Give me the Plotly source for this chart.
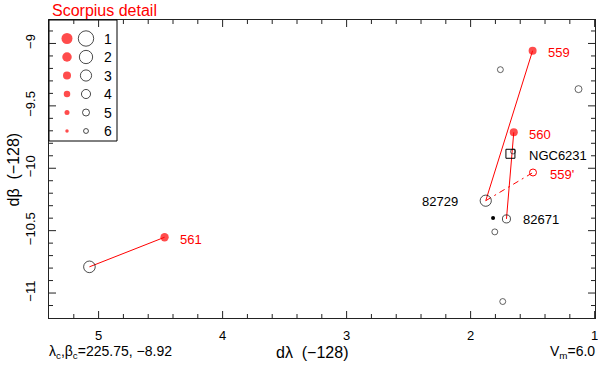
import plotly.graph_objects as go

# ---------------- data ----------------
red_names = ["559", "560", "561"]
red_x = [1.50, 1.652, 4.468]
red_y = [-9.058, -9.712, -10.553]
red_mag = [3.0, 3.0, 2.8]

hip_names = ["82729", "82671", ""]
hip_x = [1.878, 1.711, 5.074]
hip_y = [-10.26, -10.406, -10.79]
hip_mag = [3.0, 4.5, 2.8]

field_x = [1.76, 1.13, 1.805, 1.741, 1.658]
field_y = [-9.21, -9.366, -10.51, -11.068, -9.866]
field_mag = [5.5, 5.0, 5.5, 5.5, 6.0]

dot_x = [1.819]
dot_y = [-10.398]

alt_name = ["559'"]
alt_x = [1.497]
alt_y = [-10.034]

cluster_name = ["NGC6231"]
cluster_x = [1.679]
cluster_y = [-9.884]

legend_mags = [1, 2, 3, 4, 5, 6]
x_ticks = [5, 4, 3, 2, 1]
y_ticks = [-9, -9.5, -10, -10.5, -11]
y_tick_text = ["−9", "−9.5", "−10", "−10.5", "−11"]

# ---------------- styles / layout ----------------
FONT = "Liberation Sans, Arial, sans-serif"
RED = "#ff0000"
TICKC = "#222222"
W, H = 598, 366
L, R, T, B = 49, 3, 20, 48
pw, ph = W - L - R, H - T - B
XR = [5.4, 0.997]
YR = [-11.2, -8.812]

x_minor = [round(5.2 - 0.2 * k, 1) for k in range(22)]
x_minor = [v for v in x_minor if v not in x_ticks]
y_minor = [round(-11.1 + 0.1 * k, 1) for k in range(23)]
y_minor = [v for v in y_minor if v not in y_ticks]


def red_size(m):
    return 12.5 - 1.5 * m


def open_size(m):
    return 17.5 - 2.1 * m


def px(xp):
    return (xp - L) / pw


def py(yp):
    return (H - B - yp) / ph


def dx(xp):  # pixel -> data x (for the key inset)
    return XR[0] + px(xp) * (XR[1] - XR[0])


def dy(yp):
    return YR[0] + py(yp) * (YR[1] - YR[0])


fig = go.Figure()

# connecting lines
for i in range(len(red_x)):
    fig.add_trace(go.Scatter(x=[red_x[i], hip_x[i]], y=[red_y[i], hip_y[i]], mode="lines",
                             line=dict(color=RED, width=1), hoverinfo="skip", showlegend=False))
fig.add_trace(go.Scatter(x=[hip_x[0], alt_x[0]], y=[hip_y[0], alt_y[0]], mode="lines",
                         line=dict(color=RED, width=1, dash="6px,4px,2px,4px"),
                         hoverinfo="skip", showlegend=False))

# stars
fig.add_trace(go.Scatter(x=hip_x, y=hip_y, mode="markers",
                         marker=dict(symbol="circle-open", size=[open_size(m) for m in hip_mag],
                                     color="black", line=dict(width=1, color="black")),
                         showlegend=False))
fig.add_trace(go.Scatter(x=field_x, y=field_y, mode="markers",
                         marker=dict(symbol="circle-open", size=[open_size(m) for m in field_mag],
                                     color="#222", line=dict(width=1, color="#222")),
                         showlegend=False))
fig.add_trace(go.Scatter(x=dot_x, y=dot_y, mode="markers",
                         marker=dict(symbol="circle", size=4, color="black"), showlegend=False))
fig.add_trace(go.Scatter(x=alt_x, y=alt_y, mode="markers",
                         marker=dict(symbol="circle-open", size=7, color=RED,
                                     line=dict(width=1, color=RED)), showlegend=False))
fig.add_trace(go.Scatter(x=cluster_x, y=cluster_y, mode="markers",
                         marker=dict(symbol="square-open", size=9, color="black",
                                     line=dict(width=1, color="black")), showlegend=False))
fig.add_trace(go.Scatter(x=red_x, y=red_y, mode="markers",
                         marker=dict(symbol="circle", size=[red_size(m) for m in red_mag], color=RED,
                                     line=dict(width=0)),
                         showlegend=False))

# labels
for n, x, y in zip(red_names, red_x, red_y):
    fig.add_annotation(x=x, y=y, text=n, showarrow=False, xanchor="left", yanchor="middle",
                       xshift=13, yshift=-2, font=dict(color=RED, size=13, family=FONT))
for n, x, y, s in zip(hip_names, hip_x, hip_y, [-1, 1, 1]):
    if n:
        fig.add_annotation(x=x, y=y, text=n, showarrow=False,
                           xanchor="right" if s < 0 else "left", yanchor="middle",
                           xshift=-26 if s < 0 else 15, yshift=-1,
                           font=dict(color="black", size=13, family=FONT))
fig.add_annotation(x=alt_x[0], y=alt_y[0], text=alt_name[0], showarrow=False, xanchor="left",
                   yanchor="middle", xshift=15, yshift=-2, font=dict(color=RED, size=13, family=FONT))
fig.add_annotation(x=cluster_x[0], y=cluster_y[0], text=cluster_name[0], showarrow=False,
                   xanchor="left", yanchor="middle", xshift=17, yshift=-2,
                   font=dict(color="black", size=13, family=FONT))

# magnitude key (top-left box)
key_py = [20 + 18.5 * m for m in legend_mags]
fig.add_trace(go.Scatter(x=[dx(67)] * len(legend_mags), y=[dy(v) for v in key_py], mode="markers",
                         marker=dict(symbol="circle", size=[red_size(m) for m in legend_mags], color=RED,
                                     line=dict(width=0)),
                         showlegend=False, hoverinfo="skip"))
fig.add_trace(go.Scatter(x=[dx(86)] * len(legend_mags), y=[dy(v) for v in key_py], mode="markers",
                         marker=dict(symbol="circle-open", size=[open_size(m) for m in legend_mags],
                                     color="black", line=dict(width=1, color="black")),
                         showlegend=False, hoverinfo="skip"))
for m, v in zip(legend_mags, key_py):
    fig.add_annotation(xref="paper", yref="paper", x=px(108), y=py(v), text=str(m), showarrow=False,
                       xanchor="center", yanchor="middle", font=dict(size=14, family=FONT, color="black"))

fig.add_shape(type="rect", xref="paper", yref="paper", x0=0, x1=px(117), y0=py(141), y1=1,
              line=dict(color="black", width=1))

# tick marks (inside, on all four sides), placed through the axis scales
tick_line = dict(color=TICKC, width=1)
for vals, ln in ((x_ticks, 7), (x_minor, 4)):
    for v in vals:
        fig.add_shape(type="line", xref="x", yref="paper", x0=v, x1=v, y0=0, y1=ln / ph, line=tick_line)
        fig.add_shape(type="line", xref="x", yref="paper", x0=v, x1=v, y0=1, y1=1 - ln / ph, line=tick_line)
for vals, ln in ((y_ticks, 7), (y_minor, 4)):
    for v in vals:
        fig.add_shape(type="line", xref="paper", yref="y", y0=v, y1=v, x0=0, x1=ln / pw, line=tick_line)
        fig.add_shape(type="line", xref="paper", yref="y", y0=v, y1=v, x0=1, x1=1 - ln / pw, line=tick_line)

# texts
fig.add_annotation(xref="paper", yref="paper", x=px(50), y=py(11), text="Scorpius detail",
                   showarrow=False, xanchor="left", yanchor="middle",
                   font=dict(color=RED, size=16, family=FONT))
fig.add_annotation(xref="paper", yref="paper", x=px(12.5), y=py(170), text="dβ\u00a0\u00a0(−128)",
                   textangle=-90, showarrow=False, xanchor="center", yanchor="middle",
                   font=dict(color="black", size=16, family=FONT))
fig.add_annotation(xref="paper", yref="paper", x=px(312), y=py(352), text="dλ\u00a0\u00a0(−128)",
                   showarrow=False, xanchor="center", yanchor="middle",
                   font=dict(color="black", size=16, family=FONT))
fig.add_annotation(xref="paper", yref="paper", x=px(47), y=py(352),
                   text="λ<sub>c</sub>,β<sub>c</sub>=225.75, −8.92",
                   showarrow=False, xanchor="left", yanchor="middle",
                   font=dict(color="black", size=14, family=FONT))
fig.add_annotation(xref="paper", yref="paper", x=px(597), y=py(352), text="V<sub>m</sub>=6.0",
                   showarrow=False, xanchor="right", yanchor="middle",
                   font=dict(color="black", size=14, family=FONT))

fig.update_layout(
    width=W, height=H,
    margin=dict(l=L, r=R, t=T, b=B, pad=0, autoexpand=False),
    paper_bgcolor="white", plot_bgcolor="white",
    showlegend=False,
    xaxis=dict(range=XR, tickvals=x_ticks, ticktext=[str(v) for v in x_ticks],
               ticks="", showline=True, linecolor=TICKC, linewidth=1, mirror=True,
               showgrid=False, zeroline=False, ticklabeloverflow="allow", automargin=False,
               ticklabelstandoff=5,
               tickfont=dict(size=13, family=FONT, color="black")),
    yaxis=dict(range=YR, tickvals=y_ticks, ticktext=y_tick_text, tickangle=-90,
               ticks="", showline=True, linecolor=TICKC, linewidth=1, mirror=True,
               showgrid=False, zeroline=False, automargin=False,
               ticklabelstandoff=8,
               tickfont=dict(size=13, family=FONT, color="black")),
)

fig.write_html("out.html", config={"displayModeBar": False},
               post_script="document.body.style.margin='0';document.body.style.overflow='hidden';")
